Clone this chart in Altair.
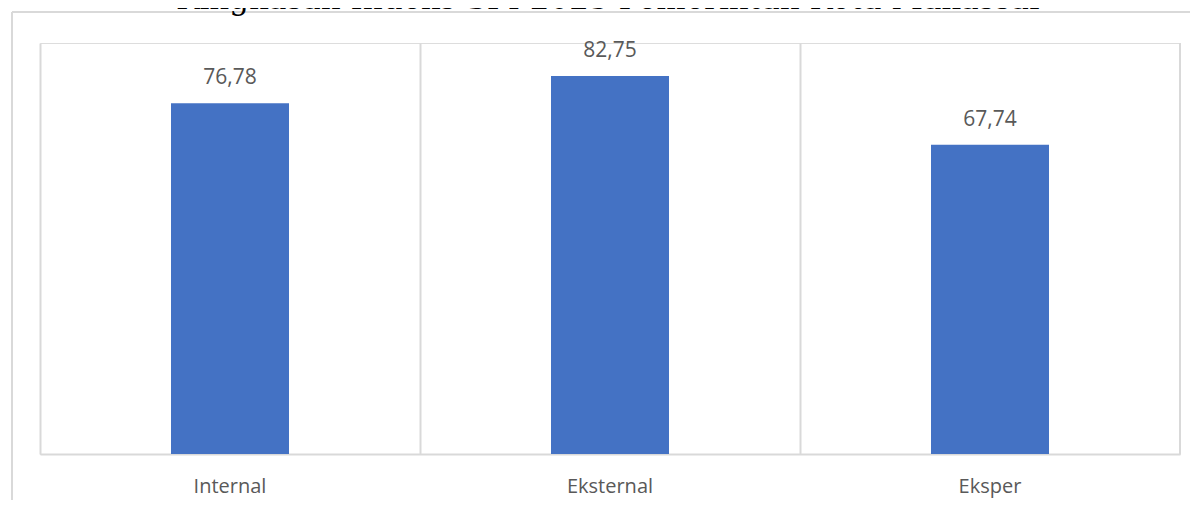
import altair as alt
import pandas as pd

categories = ["Internal", "Eksternal", "Eksper"]
values = [76.78, 82.75, 67.74]
title_text = ["Ringkasan Indeks SPI 2023 Pemerintah Kota Makassar"]

df = pd.DataFrame({"kategori": categories, "nilai": values})
df_title = pd.DataFrame({"judul": title_text})

W, H = 1140, 411
GRID = "#d9d9d9"
LABEL = "#595959"

x_enc = alt.X(
    "kategori:N",
    sort=categories,
    scale=alt.Scale(paddingInner=0, paddingOuter=0),
    axis=alt.Axis(
        title=None, labelAngle=0, labelFont="Open Sans", labelFontSize=20,
        labelColor=LABEL, labelPadding=22, ticks=False, tickSize=0,
        domainColor=GRID, domainWidth=2, grid=True, gridColor=GRID,
        gridWidth=2, bandPosition=0,
    ),
)
y_enc = alt.Y("nilai:Q", scale=alt.Scale(domain=[0, 90]), axis=None)

base = alt.Chart(df).encode(x=x_enc, y=y_enc)

bars = base.mark_bar(size=118, color="#4472C4")
labels = base.transform_calculate(
    label="replace(format(datum.nilai, '.2f'), '.', ',')"
).mark_text(dy=-19, baseline="alphabetic", font="Open Sans", fontSize=21,
            color=LABEL).encode(text="label:N")

right_grid = alt.Chart(df_title).mark_rule(color=GRID, strokeWidth=2).encode(
    x=alt.value(W), y=alt.value(0), y2=alt.value(H)
)
box_top = alt.Chart(df_title).mark_rule(color=GRID, strokeWidth=2).encode(
    x=alt.value(-28), x2=alt.value(W + 12), y=alt.value(-31)
)
box_left = alt.Chart(df_title).mark_rule(color=GRID, strokeWidth=2).encode(
    x=alt.value(-28), y=alt.value(-31), y2=alt.value(H + 46)
)
title = alt.Chart(df_title).mark_text(
    font="DejaVu Serif", fontSize=31, color="black", baseline="alphabetic",
    align="center",
).encode(x=alt.value(W / 2), y=alt.value(-34), text="judul:N")

chart = alt.layer(box_top, box_left, right_grid, bars, labels, title).properties(
    width=W, height=H,
    autosize=alt.AutoSizeParams(type="none"),
    padding={"left": 32, "top": 35, "right": 10, "bottom": 46},
).configure_view(stroke=None).configure(background="white")

chart.save("out.html", embed_options={"renderer": "svg", "actions": False})
